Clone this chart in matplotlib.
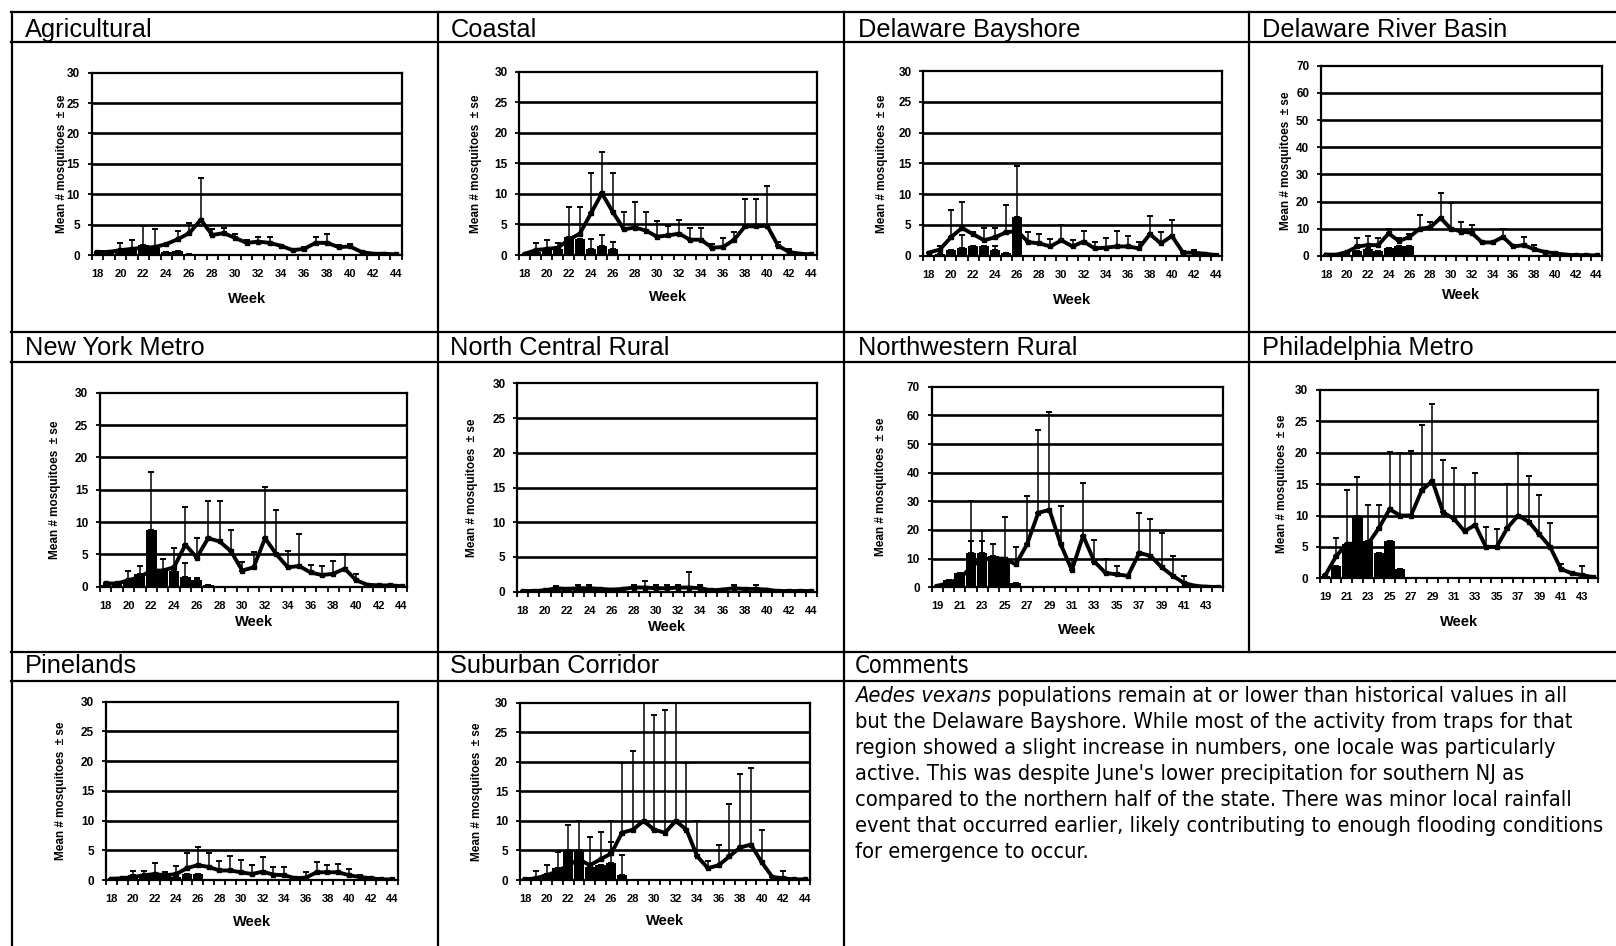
import os
import numpy as np
import matplotlib
matplotlib.use("Agg")
import matplotlib.pyplot as plt
from matplotlib import font_manager
from matplotlib.font_manager import FontProperties
from matplotlib.lines import Line2D

nan = np.nan
W, H = 1616, 946

_entries = font_manager.fontManager.ttflist
_avail = {f.name for f in _entries}
SANS = "Liberation Sans" if "Liberation Sans" in _avail else "DejaVu Sans"
plt.rcParams["font.family"] = [SANS, "DejaVu Sans"]

# ---------------------------------------------------------------- data
weeks_18 = list(range(18, 45))
weeks_19 = list(range(19, 45))

# Agricultural
agr_mean = [0.5, 0.5, 0.8, 1.0, 1.2, 1.3, 1.8, 2.6, 3.6, 5.8, 3.3, 3.6, 2.8, 2.0,
            2.2, 2.0, 1.5, 0.8, 1.0, 2.0, 2.0, 1.3, 1.4, 0.5, 0.2, 0.2, 0.1]
agr_se = [nan, nan, 1.2, 1.5, 3.5, 2.9, nan, 1.4, 1.6, 6.8, 0.9, 0.9, 0.7, 0.5,
          0.8, 1.0, nan, nan, 0.3, 1.0, 1.5, 0.3, 0.4, nan, nan, nan, nan]
agr_cur = [0.1, 0.3, 0.6, 1.0, 1.6, 1.2, 0.5, 0.6, 0.2]
agr_cur_se = [nan, nan, nan, nan, nan, nan, nan, nan, nan]

# Coastal
coa_mean = [0.2, 0.8, 1.0, 1.2, 2.5, 3.5, 6.8, 10.1, 7.0, 4.2, 4.5, 4.0, 3.0, 3.2,
            3.5, 2.5, 2.5, 1.2, 1.3, 2.5, 4.7, 4.7, 4.8, 1.5, 0.5, 0.2, 0.1]
coa_se = [nan, 1.2, 1.4, 0.8, 5.4, 4.3, 6.7, 6.7, 6.5, 2.8, 4.1, 3.0, 2.5, 1.6,
          2.3, 2.0, 2.0, 0.6, 1.5, 1.3, 4.5, 4.5, 6.5, 0.7, 0.5, nan, nan]
coa_cur = [0.0, 0.5, 1.0, 1.0, 3.0, 2.6, 1.0, 1.5, 1.0]
coa_cur_se = [nan, nan, nan, nan, nan, nan, 1.7, 1.8, 1.1]

# Delaware Bayshore
dbs_mean = [0.5, 1.0, 3.0, 4.5, 3.5, 2.5, 3.0, 3.8, 4.0, 2.2, 2.0, 1.5, 2.5, 1.5,
            2.3, 1.2, 1.3, 1.5, 1.5, 1.2, 3.5, 2.0, 3.2, 0.5, 0.5, 0.3, 0.1]
dbs_se = [nan, 0.5, 4.5, 4.3, 0.3, 2.0, 1.5, 4.4, nan, 1.6, 1.5, 1.2, 2.5, 1.0,
          1.7, 1.0, 1.5, 2.5, 1.7, 1.1, 3.0, 1.8, 2.6, 0.3, 0.5, nan, nan]
dbs_cur = [0.0, 0.3, 1.0, 1.2, 1.5, 1.5, 1.0, 0.4, 6.3]
dbs_cur_se = [nan, nan, nan, 2.1, nan, nan, 0.5, nan, 8.2]

# Delaware River Basin
drb_mean = [0.5, 0.5, 1.5, 3.5, 4.0, 4.0, 8.3, 5.5, 7.0, 10.0, 10.5, 14.0, 10.0, 9.0,
            8.5, 5.0, 5.0, 7.0, 3.5, 4.0, 2.5, 1.5, 1.0, 0.5, 0.3, 0.3, 0.2]
drb_se = [nan, nan, nan, 3.0, 3.5, 2.5, 1.7, 1.0, 1.0, 5.0, 2.0, 9.0, 9.6, 3.5,
          3.0, nan, nan, 3.0, nan, 3.0, 1.5, 0.5, nan, nan, nan, nan, nan]
drb_cur = [0.0, 0.0, 0.5, 2.0, 2.5, 2.0, 3.0, 3.5, 3.5]
drb_cur_se = [nan, nan, nan, nan, nan, nan, nan, nan, nan]

# New York Metro
nym_mean = [0.5, 0.5, 1.0, 1.5, 2.5, 2.5, 3.0, 6.5, 4.5, 7.5, 7.0, 5.5, 2.5, 3.0,
            7.5, 5.0, 3.0, 3.2, 2.2, 1.8, 2.0, 2.8, 1.0, 0.3, 0.2, 0.2, 0.1]
nym_se = [nan, nan, 1.5, 1.7, nan, 1.8, 3.0, 5.8, 3.1, 5.7, 6.2, 3.3, 1.3, 2.3,
          7.9, 6.9, 2.5, 4.9, 1.2, 1.4, 1.9, 2.2, 1.0, nan, nan, nan, nan]
nym_cur = [0.2, 0.5, 1.0, 2.0, 8.8, 2.5, 2.5, 1.5, 1.0, 0.3]
nym_cur_se = [nan, nan, nan, nan, 8.9, nan, nan, 2.2, 0.3, nan]

# North Central Rural
ncr_mean = [0.1, 0.1, 0.2, 0.5, 0.4, 0.5, 0.5, 0.4, 0.3, 0.4, 0.6, 0.6, 0.5, 0.5,
            0.6, 0.6, 0.5, 0.2, 0.3, 0.5, 0.4, 0.4, 0.3, 0.1, 0.1, 0.1, 0.1]
ncr_se = [nan, nan, nan, 0.3, nan, 0.4, 0.5, nan, nan, nan, 0.4, 0.9, 0.5, 0.4,
          0.4, 2.2, 0.4, nan, nan, 0.5, nan, 0.5, nan, nan, nan, nan, nan]
ncr_cur = [0.0, 0.0, 0.0, 0.4, 0.3, 0.3, 0.5, 0.2, 0.1]
ncr_cur_se = [nan, nan, nan, nan, nan, nan, nan, nan, nan]

# Northwestern Rural
nwr_mean = [0.5, 1.5, 3.0, 7.0, 10.0, 10.0, 10.0, 8.0, 15.0, 26.0, 27.0, 15.0, 6.0,
            18.0, 9.0, 5.0, 4.5, 4.0, 12.0, 11.0, 7.0, 4.0, 1.5, 0.5, 0.2, 0.1]
nwr_se = [nan, nan, nan, 9.0, 6.0, 5.0, 14.5, 6.0, 17.0, 29.0, 34.0, 13.5, 4.0,
          18.5, 7.5, 5.0, 3.0, nan, 14.0, 13.0, 12.0, 7.0, 2.5, nan, nan, nan]
nwr_cur = [0.5, 2.5, 5.0, 12.0, 12.0, 11.0, 10.0, 1.5]
nwr_cur_se = [nan, nan, nan, 18.0, 7.5, nan, nan, nan]

# Philadelphia Metro
phl_mean = [0.5, 3.5, 5.5, 5.5, 5.5, 8.0, 11.0, 10.0, 10.0, 14.0, 15.5, 10.5, 9.5,
            7.5, 8.5, 5.0, 5.0, 8.0, 10.0, 9.0, 7.0, 5.0, 1.5, 0.8, 0.5, 0.2]
phl_se = [nan, 3.0, 8.5, nan, 6.1, 3.6, 9.2, 10.0, 10.3, 10.5, 12.3, 8.3, 8.0,
          7.3, 8.2, 3.2, 2.8, 7.0, 10.0, 7.3, 6.2, 3.8, 0.8, nan, 1.4, nan]
phl_cur = [0.3, 2.0, 5.5, 10.0, 6.0, 4.0, 6.0, 1.5]
phl_cur_se = [nan, nan, nan, 6.2, nan, nan, nan, nan]

# Pinelands
pin_mean = [0.2, 0.3, 0.5, 0.8, 1.0, 0.8, 1.0, 2.0, 2.5, 2.2, 1.6, 1.6, 1.3, 1.0,
            1.4, 0.9, 0.8, 0.3, 0.4, 1.3, 1.3, 1.3, 0.8, 0.5, 0.3, 0.1, 0.1]
pin_se = [nan, nan, 1.0, 0.7, 1.8, 0.6, 1.4, 2.5, 3.0, 2.3, 1.6, 2.4, 2.0, 1.5,
          2.4, 1.3, 1.4, nan, 0.9, 1.7, 1.2, 1.4, 1.0, 0.4, nan, nan, nan]
pin_cur = [0.0, 0.1, 0.8, 0.7, 0.8, 0.8, 0.5, 1.0, 1.0]
pin_cur_se = [nan, nan, nan, nan, nan, nan, nan, nan, nan]

# Suburban Corridor
sub_mean = [0.1, 0.3, 0.8, 1.5, 2.5, 3.5, 2.5, 3.5, 4.5, 8.0, 8.5, 10.0, 8.5, 8.0,
            10.0, 8.5, 4.0, 2.0, 2.5, 4.0, 5.5, 6.0, 3.0, 0.5, 0.3, 0.1, 0.1]
sub_se = [nan, 1.2, 1.7, 3.2, 6.8, 6.5, 4.7, 4.7, 5.5, 11.8, 13.3, 22.0, 19.5, 20.8,
          22.0, 11.3, 6.0, 1.2, 3.5, 8.8, 12.5, 13.0, 5.5, nan, 1.3, nan, nan]
sub_cur = [0.0, 0.3, 1.0, 2.0, 5.0, 5.0, 2.2, 2.5, 2.8, 0.8]
sub_cur_se = [nan, nan, nan, nan, nan, nan, nan, nan, 3.7, 3.4]

titles = ["Agricultural", "Coastal", "Delaware Bayshore", "Delaware River Basin",
          "New York Metro", "North Central Rural", "Northwestern Rural",
          "Philadelphia Metro", "Pinelands", "Suburban Corridor"]

comment_italic = "Aedes vexans"
comment_lines = [
    " populations remain at or lower than historical values in all",
    "but the Delaware Bayshore. While most of the activity from traps for that",
    "region showed a slight increase in numbers, one locale was particularly",
    "active. This was despite June's lower precipitation for southern NJ as",
    "compared to the northern half of the state. There was minor local rainfall",
    "event that occurred earlier, likely contributing to enough flooding conditions",
    "for emergence to occur.",
]

# ---------------------------------------------------------------- layout
# plot rectangles in pixels: left, top, right, bottom
panel_specs = [
    (weeks_18, agr_mean, agr_se, agr_cur, agr_cur_se, 30, 5, (91.7, 72.7, 401.7, 255.0), 62, 299),
    (weeks_18, coa_mean, coa_se, coa_cur, coa_cur_se, 30, 5, (519.3, 71.7, 816.7, 255.0), 476, 297),
    (weeks_18, dbs_mean, dbs_se, dbs_cur, dbs_cur_se, 30, 5, (923.3, 71.0, 1221.7, 255.7), 882, 300),
    (weeks_18, drb_mean, drb_se, drb_cur, drb_cur_se, 70, 10, (1321.0, 65.7, 1601.7, 256.0), 1286, 295),
    (weeks_18, nym_mean, nym_se, nym_cur, nym_cur_se, 30, 5, (100.0, 392.7, 407.3, 586.7), 55, 622),
    (weeks_18, ncr_mean, ncr_se, ncr_cur, ncr_cur_se, 30, 5, (517.3, 383.3, 816.7, 591.7), 472, 627),
    (weeks_19, nwr_mean, nwr_se, nwr_cur, nwr_cur_se, 70, 10, (931.7, 386.7, 1223.3, 587.3), 881, 630),
    (weeks_19, phl_mean, phl_se, phl_cur, phl_cur_se, 30, 5, (1320.0, 390.0, 1598.3, 578.3), 1282, 622),
    (weeks_18, pin_mean, pin_se, pin_cur, pin_cur_se, 30, 5, (106.0, 701.7, 397.7, 880.0), 61, 922),
    (weeks_18, sub_mean, sub_se, sub_cur, sub_cur_se, 30, 5, (520.0, 702.7, 810.0, 880.0), 477, 921),
]
title_pos = [(25, 37), (451, 37), (858, 37), (1262, 37),
             (25, 355), (450, 355), (858, 355), (1262, 355),
             (25, 673), (450, 673)]

fig = plt.figure(figsize=(W / 100, H / 100), dpi=100)
bg = fig.add_axes([0, 0, 1, 1])
bg.set_xlim(0, W)
bg.set_ylim(H, 0)
bg.axis("off")
fig.canvas.draw()
renderer = fig.canvas.get_renderer()

# table rules
for y in [12.5, 42, 332, 362, 652, 681]:
    bg.add_line(Line2D([11, W], [y, y], color="black", lw=1.6))
for x in [11.5, 438, 844]:
    bg.add_line(Line2D([x, x], [12.5, H], color="black", lw=1.6))
bg.add_line(Line2D([1249, 1249], [12.5, 652], color="black", lw=1.6))

for t, (tx, ty) in zip(titles, title_pos):
    bg.text(tx, ty, t, fontsize=18.3, family=SANS, va="baseline", ha="left")


# ---------------------------------------------------------------- comment block
REGULAR = (400, "normal", "regular", "book")
NARROW_FAMILIES = ("Liberation Sans Narrow", "Arial Narrow", "Noto Sans", "Open Sans",
                   "DejaVu Sans", "Roboto", "Lato", "Inter")


def _plain_sans_file(path):
    base = os.path.basename(path).lower()
    return not any(k in base for k in ("mono", "serif", "light", "thin", "cjk", "display"))


def _body_candidates():
    cands = [(FontProperties(family=SANS), SANS, "normal")]
    seen = set()
    for f in _entries:
        if f.name not in NARROW_FAMILIES or f.fname in seen:
            continue
        narrow = f.stretch in ("condensed", "semi-condensed") or "Narrow" in f.name
        if narrow and f.style == "normal" and f.weight in REGULAR \
                and _plain_sans_file(f.fname):
            seen.add(f.fname)
            cands.append((FontProperties(fname=f.fname), f.name, f.stretch))
    return cands


TARGET_W = 753.0          # longest line spans the cell
IDEAL_PT = 12.3           # size of the condensed face used in the cell


def _fit(fp):
    probe = bg.text(0, 0, comment_lines[5], fontproperties=fp, va="baseline")
    probe.set_fontsize(12)
    w = probe.get_window_extent(renderer).width
    probe.remove()
    return 12 * TARGET_W / w


best = None
for fp, name, stretch in _body_candidates():
    size = _fit(fp)
    score = abs(size - IDEAL_PT)
    if best is None or score < best[0]:
        best = (score, fp, name, stretch, size)
_, body_fp, body_name, body_stretch, body_size = best

italic_fp = None
for f in _entries:
    if f.name == body_name and f.stretch == body_stretch and \
            f.style in ("italic", "oblique") and f.weight in REGULAR \
            and _plain_sans_file(f.fname):
        italic_fp = FontProperties(fname=f.fname)
        break
if italic_fp is None:
    italic_fp = FontProperties(family=body_name, style="italic")

head = bg.text(855, 672.5, "Comments", fontproperties=body_fp, va="baseline", ha="left")
head.set_fontsize(body_size * 1.08)

text_x0, line_y0, line_dy = 855, 701.5, 26.1
it = bg.text(text_x0, line_y0, comment_italic, fontproperties=italic_fp,
             va="baseline", ha="left")
it.set_fontsize(body_size)
x_after = text_x0 + it.get_window_extent(renderer).width
for k, s in enumerate(comment_lines):
    x0 = x_after if k == 0 else text_x0
    tx = bg.text(x0, line_y0 + k * line_dy, s, fontproperties=body_fp,
                 va="baseline", ha="left")
    tx.set_fontsize(body_size)


# ---------------------------------------------------------------- panels
def draw_panel(weeks, mean, se, cur, cur_se, ymax, step, rect, ylab_x, week_y):
    l, t, r, b = rect
    ax = fig.add_axes([l / W, 1 - b / H, (r - l) / W, (b - t) / H])
    n = len(weeks)
    idx = np.arange(n)
    ci = np.arange(len(cur))

    for y in range(step, ymax, step):
        ax.axhline(y, color="black", lw=1.9, zorder=1)

    ax.bar(ci, cur, width=0.95, color="black", zorder=3)
    ax.errorbar(ci, cur, yerr=[np.zeros(len(cur)), cur_se], fmt="none",
                ecolor="black", elinewidth=1.1, capsize=2.5, capthick=1.4, zorder=4)
    ax.plot(idx, mean, color="black", lw=2.8, marker="s", ms=3, zorder=5,
            solid_joinstyle="round")
    ax.errorbar(idx, mean, yerr=[np.zeros(n), se], fmt="none",
                ecolor="black", elinewidth=1.1, capsize=2.5, capthick=1.4, zorder=4)

    ax.set_xlim(-0.5, n - 0.5)
    ax.set_ylim(0, ymax)
    ax.set_yticks(range(0, ymax + 1, step))
    lab_idx = list(range(0, n, 2))
    ax.set_xticks(lab_idx)
    ax.set_xticklabels([str(weeks[i]) for i in lab_idx])
    ax.set_xticks(np.arange(-0.5, n, 1.0), minor=True)
    ax.tick_params(axis="x", which="major", length=0, pad=10, labelsize=8)
    ax.tick_params(axis="x", which="minor", length=3.5, width=1.3, direction="out")
    ax.tick_params(axis="y", which="major", length=3, width=1.3, pad=5.5, labelsize=8.5)
    for lbl in ax.get_xticklabels() + ax.get_yticklabels():
        lbl.set_fontweight("bold")
    for sp in ax.spines.values():
        sp.set_linewidth(1.6)
        sp.set_color("black")
    ax.set_facecolor("white")

    bg.text(ylab_x, (t + b) / 2, "Mean # mosquitoes  \u00b1 se", rotation=90,
            fontsize=8.5, fontweight="bold", ha="center", va="center")
    bg.text((l + r) / 2, week_y, "Week", fontsize=10.5, fontweight="bold",
            ha="center", va="center")
    return ax


for spec in panel_specs:
    draw_panel(*spec)

fig.savefig("out.png", dpi=100, facecolor="white")
